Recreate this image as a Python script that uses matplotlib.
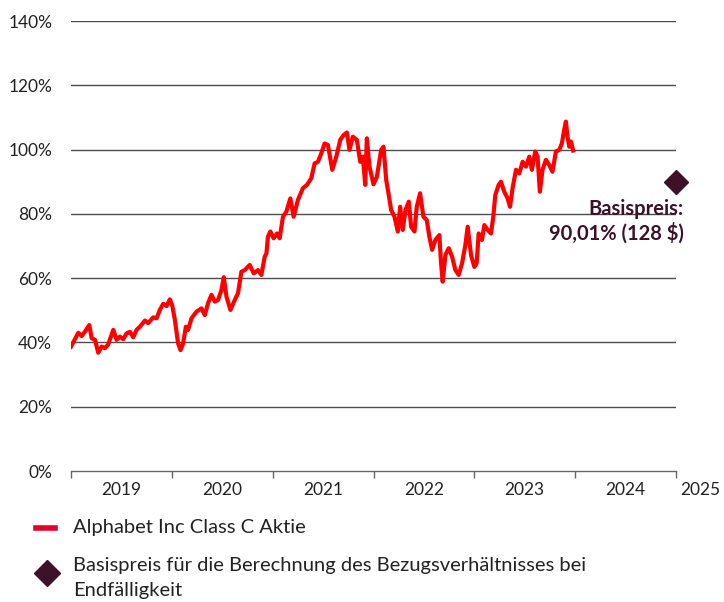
import numpy as np
import matplotlib.pyplot as plt
from matplotlib.lines import Line2D

plt.rcParams['font.family'] = ['Lato', 'DejaVu Sans']

# --- data (x = years since 2019, y = % of reference price) ---
t_offset = [
    0.000, 0.072, 0.106, 0.139, 0.181, 0.205, 0.238, 0.270, 0.304, 0.337,
    0.369, 0.419, 0.452, 0.485, 0.518, 0.551, 0.584, 0.617, 0.650, 0.683,
    0.733, 0.765, 0.815, 0.849, 0.881, 0.914, 0.948, 0.980, 1.003, 1.030,
    1.062, 1.086, 1.112, 1.139, 1.161, 1.195, 1.245, 1.294, 1.327, 1.359,
    1.393, 1.426, 1.458, 1.492, 1.515, 1.542, 1.581, 1.624, 1.656, 1.690,
    1.723, 1.772, 1.812, 1.854, 1.888, 1.921, 1.938, 1.953, 1.977, 2.010,
    2.043, 2.069, 2.102, 2.136, 2.175, 2.208, 2.250, 2.300, 2.340, 2.383,
    2.416, 2.449, 2.482, 2.515, 2.548, 2.591, 2.631, 2.670, 2.703, 2.736,
    2.762, 2.795, 2.835, 2.868, 2.894, 2.918, 2.934, 2.960, 3.000, 3.033,
    3.076, 3.099, 3.126, 3.151, 3.175, 3.208, 3.241, 3.264, 3.290, 3.317,
    3.350, 3.373, 3.406, 3.429, 3.462, 3.495, 3.528, 3.554, 3.581, 3.614,
    3.653, 3.670, 3.686, 3.713, 3.746, 3.779, 3.812, 3.845, 3.878, 3.911,
    3.934, 3.967, 4.000, 4.023, 4.043, 4.076, 4.099, 4.132, 4.165, 4.188,
    4.208, 4.241, 4.264, 4.297, 4.330, 4.354, 4.379, 4.413, 4.446, 4.479,
    4.512, 4.545, 4.571, 4.604, 4.627, 4.650, 4.676, 4.710, 4.743, 4.775,
    4.809, 4.842, 4.868, 4.891, 4.908, 4.924, 4.941, 4.958, 4.980,
]
perf = [
    38.7, 43.0, 42.0, 43.4, 45.4, 41.3, 40.8, 36.8, 38.7, 38.2,
    39.4, 43.9, 40.8, 41.8, 41.0, 42.8, 43.3, 41.6, 43.9, 44.9,
    46.8, 46.0, 47.8, 47.5, 50.1, 52.0, 51.3, 53.4, 51.6, 47.0,
    39.7, 37.6, 39.7, 44.9, 43.9, 47.5, 49.6, 50.6, 48.5, 52.2,
    54.8, 52.7, 53.2, 56.3, 60.3, 54.2, 50.1, 53.2, 55.3, 62.0,
    62.5, 64.1, 61.5, 62.5, 61.0, 66.7, 67.7, 72.9, 74.5, 72.4,
    73.9, 72.4, 79.1, 80.7, 84.8, 79.1, 84.3, 88.0, 89.0, 91.1,
    95.7, 96.2, 98.8, 101.9, 101.4, 93.7, 97.8, 103.0, 104.5, 105.3,
    99.9, 104.0, 103.0, 96.2, 97.8, 89.0, 103.5, 94.7, 89.2, 91.5,
    99.9, 100.9, 90.5, 85.9, 81.2, 79.1, 74.5, 82.2, 75.0, 81.2,
    83.8, 76.0, 74.5, 82.2, 86.4, 79.1, 78.1, 72.9, 68.8, 71.9,
    73.4, 64.6, 58.9, 67.2, 69.3, 66.7, 62.5, 61.0, 64.6, 70.3,
    76.0, 67.2, 63.5, 64.6, 73.9, 71.9, 76.5, 75.0, 73.9, 79.1,
    85.9, 89.0, 90.0, 86.9, 84.8, 82.2, 88.0, 93.7, 92.6, 96.2,
    94.7, 97.8, 93.7, 99.4, 97.8, 86.9, 93.7, 96.8, 95.2, 93.1,
    99.4, 99.9, 101.9, 106.1, 108.7, 104.0, 100.9, 102.5, 99.7,
]
start_year = 2019
years = [2019, 2020, 2021, 2022, 2023, 2024, 2025]
strike_year = 2025.0
strike_pct = 90.01
strike_label = "Basispreis:\n90,01% (128 $)"
y_ticks = [0, 20, 40, 60, 80, 100, 120, 140]

series_name = "Alphabet Inc Class C Aktie"
strike_name = "Basispreis für die Berechnung des Bezugsverhältnisses bei\nEndfälligkeit"

RED = '#ff0000'
MAROON = '#3d1229'
TEXT = '#222222'

x = start_year + np.array(t_offset)

fig = plt.figure(figsize=(7.24, 6.02), dpi=100)
ax = fig.add_axes([0.0981, 0.2176, 0.8356, 0.7475])

for v in y_ticks[1:]:
    ax.axhline(v, color='#4d4d4d', lw=1.0, zorder=1)

ax.plot(x, perf, color=RED, lw=3.0, solid_joinstyle='round', zorder=3)
ax.plot([strike_year], [strike_pct], marker='D', ms=12, color=MAROON,
        ls='none', clip_on=False, zorder=4)
ax.text(strike_year + 0.075, strike_pct - 5.3, strike_label, ha='right', va='top',
        fontsize=14.5, fontweight='bold', color=MAROON, linespacing=1.2)

ax.set_yticks(y_ticks)
ax.set_yticklabels([f"{v}%" for v in y_ticks])
ax.tick_params(axis='y', length=0, pad=13.5, labelsize=12.5, labelcolor=TEXT)

# year ticks at year starts, labels centred in each year
ax.set_xticks(years)
ax.set_xticklabels([])
ax.set_xticks([yr + 0.5 for yr in years[:-1]], minor=True)
ax.set_xticklabels([str(yr) for yr in years[:-1]], minor=True)
ax.tick_params(axis='x', which='major', length=5, width=1, color='#666666')
ax.tick_params(axis='x', which='minor', length=0, pad=8, labelsize=12.5, labelcolor=TEXT)
# last year label sits past the axis end, pushed in to stay on the canvas
ax.annotate(str(years[-1]), xy=(years[-1] + 0.24, 0), xycoords=('data', 'axes fraction'),
            xytext=(0, -8), textcoords='offset points', ha='center', va='top',
            fontsize=12.5, color=TEXT, annotation_clip=False)

ax.set_xlim(years[0], years[-1])
ax.set_ylim(0, 140)

for s in ['top', 'right', 'left']:
    ax.spines[s].set_visible(False)
ax.spines['bottom'].set_color('#666666')
ax.spines['bottom'].set_linewidth(1)

# legend drawn by hand below the plot
fig.add_artist(Line2D([36 / 724, 55 / 724], [1 - 528 / 602] * 2, color='#e4002b',
                      lw=4, transform=fig.transFigure))
fig.text(73 / 724, 1 - 528 / 602, series_name, fontsize=14.5, color=TEXT, va='center')
fig.add_artist(Line2D([47 / 724], [1 - 573 / 602], marker='D', ms=13, color=MAROON,
                      ls='none', transform=fig.transFigure))
fig.text(73 / 724, 1 - 578 / 602, strike_name, fontsize=14.5, color=TEXT, va='center',
         linespacing=1.6)

fig.savefig('out.png', dpi=100)
